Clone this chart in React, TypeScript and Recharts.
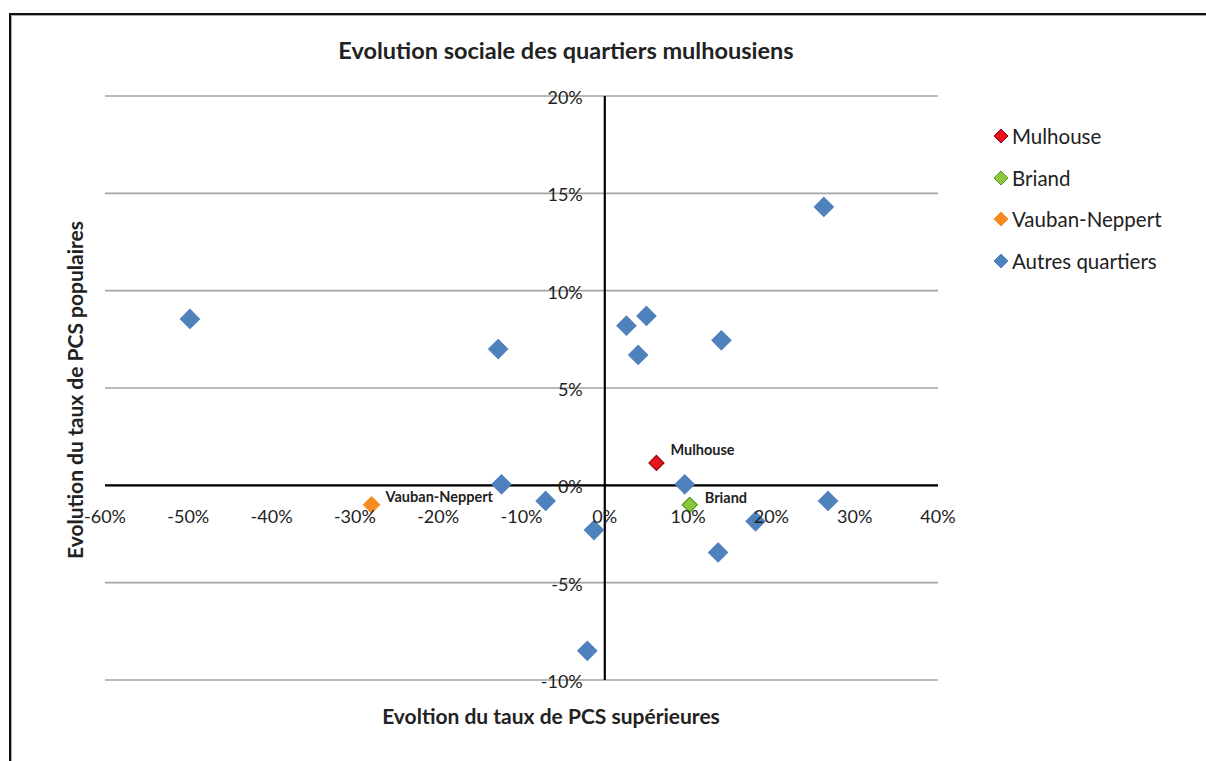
import React from 'react';
import {
    ScatterChart, Scatter, XAxis, YAxis, CartesianGrid, ReferenceLine, Legend
} from 'recharts';

// Valeurs (en %)
const X_TICKS = [-60, -50, -40, -30, -20, -10, 0, 10, 20, 30, 40];
const Y_TICKS = [-10, -5, 0, 5, 10, 15, 20];
const SERIES = ['Mulhouse', 'Briand', 'Vauban-Neppert', 'Autres quartiers'];

const mulhouseX = [6.2];
const mulhouseY = [1.15];
const briandX = [10.2];
const briandY = [-1.0];
const vaubanX = [-28.0];
const vaubanY = [-1.0];
const autresX = [-49.8, -12.8, -12.4, -7.1, -1.3, -2.1, 2.6, 5.0, 4.0, 14.0, 26.3, 9.6, 13.6, 18.1, 26.8];
const autresY = [8.55, 7.0, 0.05, -0.8, -2.3, -8.5, 8.2, 8.7, 6.7, 7.45, 14.3, 0.05, -3.45, -1.85, -0.8];

const CHART_W = 1206;
const CHART_H = 761;
const AXIS_W = 30;
const AXIS_H = 30;
const MARGIN = { top: 96, right: 268, bottom: 81 - AXIS_H, left: 105 - AXIS_W };
const PLOT_LEFT = MARGIN.left + AXIS_W;
const PLOT_W = CHART_W - PLOT_LEFT - MARGIN.right;
const PLOT_H = CHART_H - MARGIN.top - MARGIN.bottom - AXIS_H;
const X_MIN = X_TICKS[0], X_MAX = X_TICKS[X_TICKS.length - 1];
const Y_MIN = Y_TICKS[0], Y_MAX = Y_TICKS[Y_TICKS.length - 1];
// position des axes qui se croisent en 0
const ZERO_X = PLOT_LEFT + PLOT_W * (0 - X_MIN) / (X_MAX - X_MIN);
const ZERO_Y = MARGIN.top + PLOT_H * (Y_MAX - 0) / (Y_MAX - Y_MIN);

const FONT = 'Lato, "Open Sans", sans-serif';

const STYLES: Record<string, { fill: string; stroke: string; r: number }> = {
    'Mulhouse': { fill: '#e8141b', stroke: '#8c0a0a', r: 7.5 },
    'Briand': { fill: '#8cc63f', stroke: '#4f9a1c', r: 7.5 },
    'Vauban-Neppert': { fill: '#f68b1f', stroke: '#f68b1f', r: 8 },
    'Autres quartiers': { fill: '#4f81bd', stroke: '#4f81bd', r: 9.5 },
};

const toPoints = (xs: number[], ys: number[], label?: string) =>
    xs.map((x, i) => ({ x, y: ys[i], label }));

const mulhouseData = toPoints(mulhouseX, mulhouseY, 'Mulhouse');
const briandData = toPoints(briandX, briandY, 'Briand');
const vaubanData = toPoints(vaubanX, vaubanY, 'Vauban-Neppert');
const autresData = toPoints(autresX, autresY);

// décalage des étiquettes de points
const LABEL_OFFSET: Record<string, { dx: number; dy: number }> = {
    'Mulhouse': { dx: 14, dy: -13 },
    'Briand': { dx: 15, dy: -7 },
    'Vauban-Neppert': { dx: 14, dy: -8 },
};

function diamondShape(name: string) {
    const s = STYLES[name];
    return (props: any) => {
        const { cx, cy, payload } = props;
        const r = s.r;
        const pts = `${cx},${cy - r} ${cx + r},${cy} ${cx},${cy + r} ${cx - r},${cy}`;
        const off = payload?.label ? LABEL_OFFSET[payload.label] : null;
        return (
            <g>
                <polygon points={pts} fill={s.fill} stroke={s.stroke} strokeWidth={1.2} />
                {off && (
                    <text x={cx + off.dx} y={cy + off.dy} fontSize={14.5} fontWeight={700} fill="#222"
                        fontFamily={FONT} dominantBaseline="central">{payload.label}</text>
                )}
            </g>
        );
    };
}

function XTick({ x, payload }: any) {
    return (
        <text x={x} y={ZERO_Y + 31} textAnchor="middle" dominantBaseline="central"
            fontSize={18} fill="#222" fontFamily={FONT}>{`${payload.value}%`}</text>
    );
}

function YTick({ y, payload }: any) {
    return (
        <text x={ZERO_X - 22} y={y + 1} textAnchor="end" dominantBaseline="central"
            fontSize={18} fill="#222" fontFamily={FONT}>{`${payload.value}%`}</text>
    );
}

function LegendContent({ payload }: any) {
    const items = [...(payload || [])].sort((a: any, b: any) => SERIES.indexOf(a.value) - SERIES.indexOf(b.value));
    return (
        <div style={{ fontFamily: FONT, fontSize: 20.5, color: '#222' }}>
            {items.map((p: any) => {
                const s = STYLES[p.value];
                return (
                    <div key={p.value} style={{ display: 'flex', alignItems: 'center', height: 41.7 }}>
                        <svg width={16} height={16} style={{ marginRight: 3 }}>
                            <polygon points="8,1 15,8 8,15 1,8" fill={s.fill} stroke={s.stroke} strokeWidth={1} />
                        </svg>
                        <span>{p.value}</span>
                    </div>
                );
            })}
        </div>
    );
}

export default function App() {
    return (
        <div style={{ position: 'fixed', left: 0, top: 0, width: CHART_W, height: CHART_H, overflow: 'hidden', background: '#fff' }}>
            {/* cadre */}
            <div style={{
                position: 'absolute', left: 9, top: 13, width: 1400, height: 1000,
                borderTop: '2px solid #111', borderLeft: '2px solid #111',
                boxShadow: 'inset 1px 1px 0 #aaa',
            }} />
            <div style={{ position: 'absolute', left: 0, top: 0 }}>
                <ScatterChart width={CHART_W} height={CHART_H} margin={MARGIN}>
                    <CartesianGrid vertical={false} stroke="#a3a3a3" strokeWidth={1.6} />
                    <XAxis type="number" dataKey="x" domain={[X_MIN, X_MAX]} ticks={X_TICKS}
                        height={AXIS_H} axisLine={false} tickLine={false} tick={<XTick />} interval={0} />
                    <YAxis type="number" dataKey="y" domain={[Y_MIN, Y_MAX]} ticks={Y_TICKS}
                        width={AXIS_W} axisLine={false} tickLine={false} tick={<YTick />} interval={0} />
                    <ReferenceLine x={0} stroke="#000" strokeWidth={2.2} />
                    <ReferenceLine y={0} stroke="#000" strokeWidth={2.2} />
                    <Legend layout="horizontal" verticalAlign="middle" align="center"
                        wrapperStyle={{ position: 'absolute', left: 993, top: 115, width: 210 }}
                        content={<LegendContent />} />
                    <Scatter name="Mulhouse" data={mulhouseData} fill={STYLES['Mulhouse'].fill}
                        shape={diamondShape('Mulhouse')} isAnimationActive={false} />
                    <Scatter name="Briand" data={briandData} fill={STYLES['Briand'].fill}
                        shape={diamondShape('Briand')} isAnimationActive={false} />
                    <Scatter name="Vauban-Neppert" data={vaubanData} fill={STYLES['Vauban-Neppert'].fill}
                        shape={diamondShape('Vauban-Neppert')} isAnimationActive={false} />
                    <Scatter name="Autres quartiers" data={autresData} fill={STYLES['Autres quartiers'].fill}
                        shape={diamondShape('Autres quartiers')} isAnimationActive={false} />
                </ScatterChart>
            </div>
            {/* titres */}
            <div style={{ position: 'absolute', left: 0, width: 1132, top: 36, textAlign: 'center', fontFamily: FONT, fontWeight: 700, fontSize: 23.5, color: '#222' }}>
                Evolution sociale des quartiers mulhousiens
            </div>
            <div style={{ position: 'absolute', left: 0, width: 1102, top: 703, textAlign: 'center', fontFamily: FONT, fontWeight: 700, fontSize: 21, color: '#222' }}>
                Evoltion du taux de PCS supérieures
            </div>
            <div style={{
                position: 'absolute', left: 75, top: 390, width: 420, marginLeft: -210, marginTop: -13, height: 26,
                textAlign: 'center', transform: 'rotate(-90deg)', fontFamily: FONT, fontWeight: 700, fontSize: 21, color: '#222', lineHeight: '26px',
            }}>
                Evolution du taux de PCS populaires
            </div>
        </div>
    );
}
